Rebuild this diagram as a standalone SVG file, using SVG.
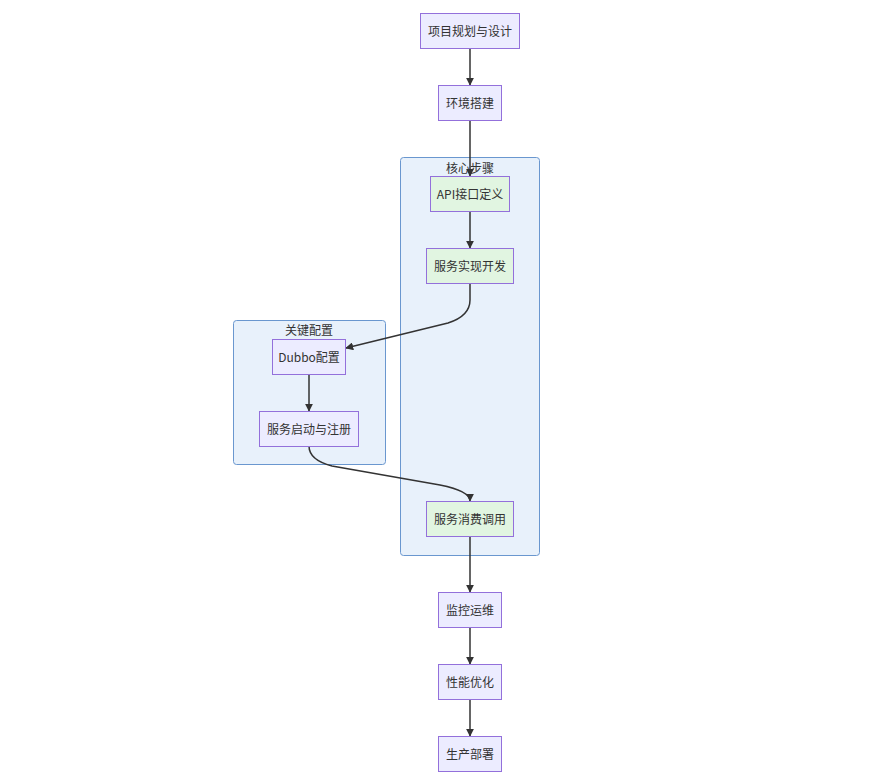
<svg xmlns="http://www.w3.org/2000/svg" width="880" height="784" viewBox="0 0 880 784">
<defs>
<style>
.n rect{fill:#ECECFF;stroke:#9370DB;stroke-width:1}
.g rect{fill:#E1F5E1;stroke:#9370DB;stroke-width:1}
.c rect{fill:#E8F1FB;stroke:#6A97CF;stroke-width:1}
text{font-family:"Noto Sans CJK SC","Liberation Sans",sans-serif;font-size:12px;fill:#333;text-anchor:middle;dominant-baseline:central}
.e path{fill:none;stroke:#333;stroke-width:1.5;marker-end:url(#a)}
</style>
<marker id="a" viewBox="0 0 10 10" refX="9" refY="5" markerWidth="8" markerHeight="8" orient="auto" markerUnits="userSpaceOnUse">
<path d="M0,0 L10,5 L0,10 z" fill="#333"/>
</marker>
</defs>
<g id="cluster-core" class="c"><rect x="400.5" y="157.5" width="139" height="398" rx="3"/><text x="470" y="167">核心步骤</text></g>
<g id="cluster-config" class="c"><rect x="233.5" y="320.5" width="152" height="144" rx="3"/><text x="309" y="329">关键配置</text></g>
<g class="e" id="edges">
<path d="M470,48 L470,85"/>
<path d="M470,120 L470,176"/>
<path d="M470,211 L470,248"/>
<path d="M470,283 L470,300 Q470,316 448,323 L346,348"/>
<path d="M309,374 L309,411"/>
<path d="M309,446 Q309,460 332,466 L440,485 Q470,491 470,501"/>
<path d="M470,536 L470,592"/>
<path d="M470,627 L470,664"/>
<path d="M470,699 L470,736"/>
</g>
<g id="n1" class="n"><rect x="420.5" y="13.5" width="99" height="35"/><text x="470" y="30">项目规划与设计</text></g>
<g id="n2" class="n"><rect x="438.5" y="85.5" width="63" height="35"/><text x="470" y="102">环境搭建</text></g>
<g id="n3" class="g"><rect x="430.5" y="176.5" width="79" height="35"/><text x="470" y="193">API接口定义</text></g>
<g id="n4" class="g"><rect x="426.5" y="248.5" width="87" height="35"/><text x="470" y="265">服务实现开发</text></g>
<g id="n5" class="n"><rect x="272.5" y="339.5" width="73" height="35"/><text x="309" y="356">Dubbo配置</text></g>
<g id="n6" class="n"><rect x="259.5" y="411.5" width="99" height="35"/><text x="309" y="428">服务启动与注册</text></g>
<g id="n7" class="g"><rect x="426.5" y="501.5" width="87" height="35"/><text x="470" y="518">服务消费调用</text></g>
<g id="n8" class="n"><rect x="438.5" y="592.5" width="63" height="35"/><text x="470" y="609">监控运维</text></g>
<g id="n9" class="n"><rect x="438.5" y="664.5" width="63" height="35"/><text x="470" y="681">性能优化</text></g>
<g id="n10" class="n"><rect x="438.5" y="736.5" width="63" height="35"/><text x="470" y="753">生产部署</text></g>
</svg>
